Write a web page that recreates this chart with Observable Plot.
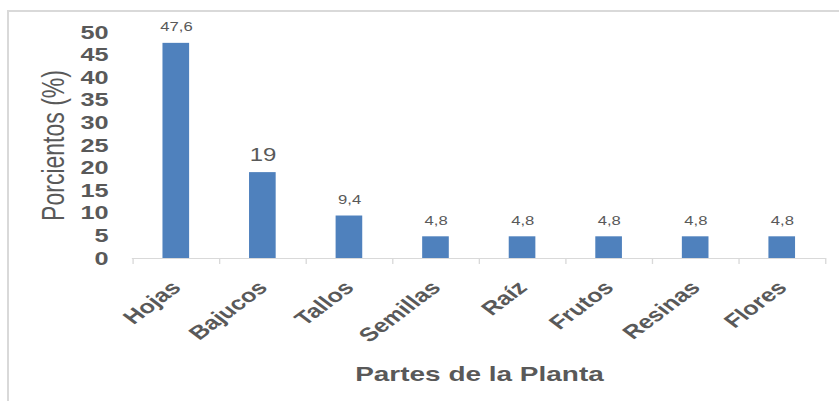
<!DOCTYPE html>
<html>
<head>
<meta charset="utf-8">
<script src="https://cdn.jsdelivr.net/npm/d3@7"></script>
<script src="https://cdn.jsdelivr.net/npm/@observablehq/plot@0.6"></script>
<style>
  html, body { margin: 0; padding: 0; background: #ffffff; overflow: hidden; }
  #wrap { position: relative; width: 839px; height: 401px; }
  #frame { position: absolute; left: 7px; top: 10px; right: 0; bottom: 0;
           border-left: 2px solid #d9d9d9; border-top: 2px solid #d9d9d9; }
  #chart { position: absolute; left: 0; top: 0; }
  #chart svg { font-family: "Liberation Sans", Arial, sans-serif; color: #595959; }
  g[aria-label="y-axis tick label"] { font-size: 19px; font-weight: bold; }
  g[aria-label="x-axis tick label"] { font-size: 19px; font-weight: bold; }
  g[aria-label="y-axis label"] { font-size: 23px; font-weight: normal; }
  g[aria-label="x-axis label"] { font-size: 21px; font-weight: bold; }
</style>
</head>
<body>
<div id="wrap"><div id="frame"></div><div id="chart"></div></div>
<script>
// ---- data ----
const categories = ["Hojas", "Bajucos", "Tallos", "Semillas", "Raíz", "Frutos", "Resinas", "Flores"];
const values = [47.6, 19, 9.4, 4.8, 4.8, 4.8, 4.8, 4.8];
const yTicks = [0, 5, 10, 15, 20, 25, 30, 35, 40, 45, 50];
const xTitle = "Partes de la Planta";
const yTitle = "Porcientos (%)";

// ---- layout (the picture is horizontally stretched, so draw narrow and stretch) ----
const outW = 839, H = 401;
const W = 630;
const ml = 99, mr = 10, mt = 32, mb = 143;
const step = (W - ml - mr) / categories.length;

const data = categories.map((c, i) => ({cat: c, val: values[i], label: String(values[i]).replace(".", ",")}));

const svg = Plot.plot({
  width: W,
  height: H,
  marginLeft: ml,
  marginRight: mr,
  marginTop: mt,
  marginBottom: mb,
  style: {fontFamily: "Liberation Sans, Arial, sans-serif", color: "#595959", background: "transparent"},
  x: {domain: categories, paddingInner: 0.69, paddingOuter: 0.345},
  y: {domain: [0, 50]},
  marks: [
    Plot.ruleY([0], {stroke: "#d9d9d9", strokeWidth: 1}),
    Plot.ruleX(categories, {x: d => d, y1: 0, y2: 0, insetBottom: -6, dx: -step / 2, stroke: "#d9d9d9"}),
    Plot.ruleX(categories.slice(-1), {x: d => d, y1: 0, y2: 0, insetBottom: -6, dx: step / 2, stroke: "#d9d9d9"}),
    Plot.barY(data, {x: "cat", y: "val", fill: "#4f81bd"}),
    Plot.text(data, {
      x: "cat", y: "val", text: "label", dy: -12, lineAnchor: "bottom",
      fontSize: d => d.label === "19" ? 18 : 12.5, fill: "#595959"
    }),
    Plot.axisY({ticks: yTicks, tickSize: 0, tickPadding: 18, label: yTitle, labelAnchor: "center", labelOffset: 68, labelArrow: "none"}),
    Plot.axisX({tickSize: 0, tickRotate: -45, tickPadding: 26, label: xTitle, labelAnchor: "center", labelOffset: 122, labelArrow: "none"})
  ]
});

svg.setAttribute("width", outW);
svg.setAttribute("height", H);
svg.setAttribute("preserveAspectRatio", "none");
svg.style.width = outW + "px";
svg.style.height = H + "px";
svg.style.maxWidth = "none";
svg.style.background = "transparent";
document.getElementById("chart").appendChild(svg);
</script>
</body>
</html>
